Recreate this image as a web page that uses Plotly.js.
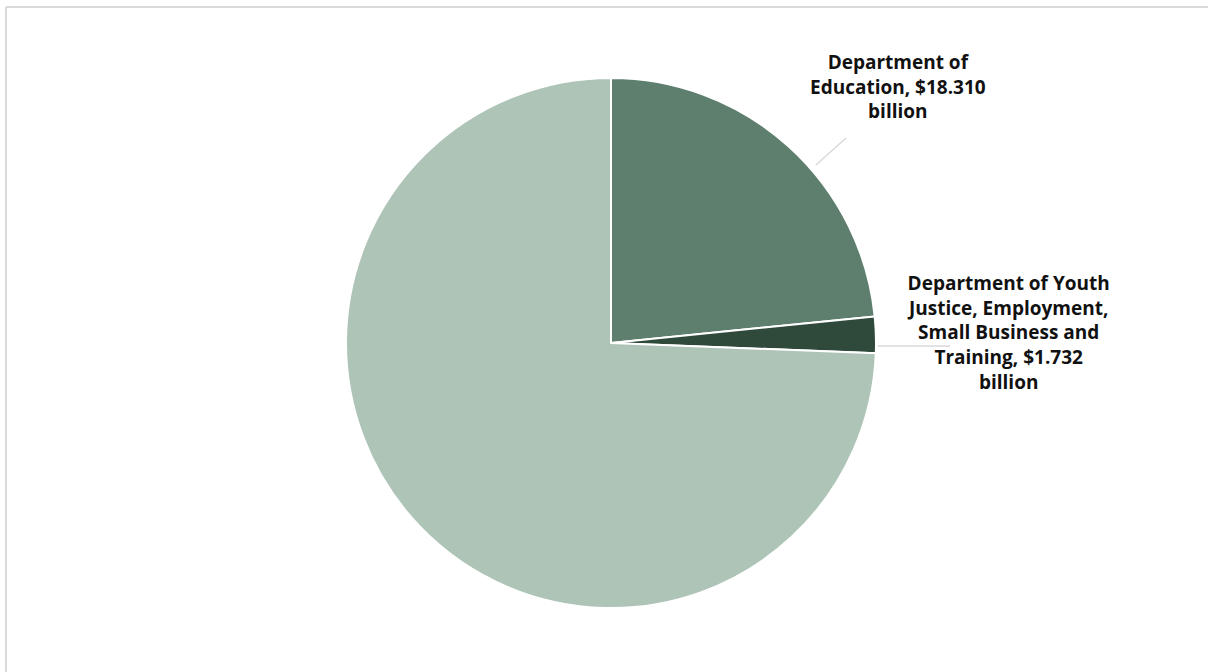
<!DOCTYPE html>
<html>
<head>
<meta charset="utf-8">
<script src="https://cdn.plot.ly/plotly-3.0.1.min.js"></script>
<style>
html,body{margin:0;padding:0;background:#fff;}
#chart{width:1208px;height:672px;}
</style>
</head>
<body>
<div id="chart"></div>
<script>
// Data
var categories = ["Department of Education", "Department of Youth Justice, Employment, Small Business and Training", "Other"];
var values = [18.310, 1.732, 58.2];
var labelLines = [
  ["Department of", "Education, $18.310", "billion"],
  ["Department of Youth", "Justice, Employment,", "Small Business and", "Training, $1.732", "billion"],
  null
];
var colors = ["#5e7f6e", "#2f4a3b", "#adc4b7"];

var W = 1208, H = 672;
function px(x){ return x / W; }
function py(y){ return 1 - y / H; }

var trace = {
  type: "pie",
  labels: categories,
  values: values,
  sort: false,
  direction: "clockwise",
  rotation: 0,
  textinfo: "none",
  hoverinfo: "label+value",
  marker: {colors: colors, line: {color: "#ffffff", width: 2}},
  domain: {x: [px(346), px(876)], y: [py(608), py(78)]},
  showlegend: false
};

var labelPos = [[898, 87], [1008, 332]];
var annotations = [];
labelLines.forEach(function(lines, i){
  if (!lines) return;
  annotations.push({
    xref: "paper", yref: "paper",
    x: px(labelPos[i][0]), y: py(labelPos[i][1]),
    xanchor: "center", yanchor: "middle",
    text: lines.join("<br>"),
    showarrow: false,
    align: "center",
    font: {family: "Open Sans, sans-serif", size: 19, color: "#111111", weight: "bold"}
  });
});

var shapes = [
  {type: "line", xref: "paper", yref: "paper", x0: px(816), y0: py(165), x1: px(846), y1: py(138), line: {color: "#d9d9d9", width: 1.5}},
  {type: "line", xref: "paper", yref: "paper", x0: px(878), y0: py(346), x1: px(950), y1: py(346), line: {color: "#d9d9d9", width: 1.5}},
  {type: "line", xref: "paper", yref: "paper", x0: px(6), y0: py(7), x1: px(1208), y1: py(7), line: {color: "#d9d9d9", width: 2}},
  {type: "line", xref: "paper", yref: "paper", x0: px(6), y0: py(7), x1: px(6), y1: py(672), line: {color: "#d9d9d9", width: 2}}
];

var layout = {
  width: W, height: H,
  margin: {l: 0, r: 0, t: 0, b: 0},
  paper_bgcolor: "#ffffff",
  plot_bgcolor: "#ffffff",
  annotations: annotations,
  shapes: shapes
};

Plotly.newPlot("chart", [trace], layout, {displayModeBar: false, staticPlot: true});
</script>
</body>
</html>
